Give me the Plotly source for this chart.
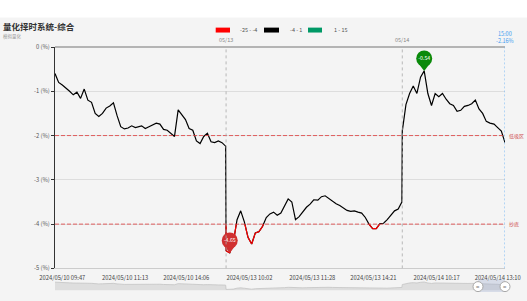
import pandas as pd
import plotly.graph_objects as go

# ---------------- data ----------------
day1_am = pd.date_range("2024-05-10 09:37", "2024-05-10 11:27", freq="5min")
day1_pm = pd.date_range("2024-05-10 13:05", "2024-05-10 15:00", freq="5min")
day2_am = pd.date_range("2024-05-13 09:30", "2024-05-13 11:30", freq="5min")
day2_pm = pd.date_range("2024-05-13 13:05", "2024-05-13 15:00", freq="5min")
day3_am = pd.date_range("2024-05-14 09:30", "2024-05-14 11:30", freq="5min")
day3_pm = pd.date_range("2024-05-14 13:05", "2024-05-14 13:20", freq="5min")

day1_values = [-0.6, -0.8, -0.86, -0.92, -1.0, -1.08, -1.02, -1.16, -0.95, -1.2, -1.25, -1.5,
               -1.57, -1.5, -1.38, -1.33, -1.26, -1.55, -1.8, -1.85, -1.83, -1.78, -1.82,
               -1.78, -1.84, -1.8, -1.76, -1.72, -1.74, -1.86, -1.88, -1.96, -2.02, -1.42, -1.52,
               -1.64, -1.84, -1.88, -2.12, -2.18, -2.02, -1.95, -2.14, -2.16, -2.12, -2.16, -2.24]
day2_values = [-4.6, -4.65, -4.4, -3.9, -3.7, -3.95, -4.3, -4.45, -4.2, -4.17, -4.05, -3.85,
               -3.77, -3.73, -3.8, -3.75, -3.6, -3.43, -3.5, -3.9, -3.83, -3.72, -3.62, -3.55, -3.45,
               -3.46, -3.38, -3.36, -3.42, -3.5, -3.54, -3.58, -3.63, -3.69, -3.71, -3.7, -3.73,
               -3.75, -3.85, -4.0, -4.1, -4.1, -3.99, -3.98, -3.9, -3.8, -3.7, -3.66, -3.5]
day3_values = [-1.9, -1.3, -1.05, -0.88, -1.05, -0.68, -0.54, -1.05, -1.32, -1.05, -1.12, -1.05,
               -1.18, -1.28, -1.32, -1.45, -1.43, -1.34, -1.32, -1.28, -1.2, -1.4, -1.5, -1.68, -1.72,
               -1.74, -1.82, -1.9, -2.16]

tick_times = ["2024-05-10 09:47", "2024-05-10 11:13", "2024-05-10 14:06", "2024-05-13 10:02",
              "2024-05-13 11:28", "2024-05-13 14:21", "2024-05-14 10:17", "2024-05-14 13:10"]
tick_labels = ["2024/05/10 09:47", "2024/05/10 11:13", "2024/05/10 14:06", "2024/05/13 10:02",
               "2024/05/13 11:28", "2024/05/13 14:21", "2024/05/14 10:17", "2024/05/14 13:10"]
y_ticks = [0, -1, -2, -3, -4, -5]
y_tick_labels = ["0 (%)", "-1 (%)", "-2 (%)", "-3 (%)", "-4 (%)", "-5 (%)"]
day_starts = ["2024-05-13 09:30", "2024-05-14 09:30"]
day_labels = ["05/13", "05/14"]
ref_levels = [-2, -4]
ref_labels = ["低吸区", "抄底"]
legend_pieces = [("-25 - -4", "#ff0000"), ("-4 - 1", "#000000"), ("1 - 15", "#009966")]
threshold = -4

times = list(day1_am) + list(day1_pm) + list(day2_am) + list(day2_pm) + list(day3_am) + list(day3_pm)
values = day1_values + day2_values + day3_values

# ---------------- red segments (below threshold) ----------------
red_x, red_y = [], []
for i in range(len(values) - 1):
    a, b = values[i], values[i + 1]
    ta, tb = times[i], times[i + 1]
    ba, bb = a < threshold, b < threshold
    if not ba and not bb:
        continue
    if ba and bb:
        red_x += [ta, tb, None]
        red_y += [a, b, None]
    else:
        if (tb - ta) <= pd.Timedelta(minutes=10):
            f = (threshold - a) / (b - a)
            tc = ta + (tb - ta) * f
        else:
            tc = tb
        if ba:
            red_x += [ta, tc, None]
            red_y += [a, threshold, None]
        else:
            red_x += [tc, tb, None]
            red_y += [threshold, b, None]

rbreaks = [dict(bounds=["sat", "mon"]),
           dict(bounds=[15.01, 9.5], pattern="hour"),
           dict(bounds=[11.51, 13], pattern="hour")]

BG = "#f4f4f4"
FONT = "Noto Sans CJK SC"

fig = go.Figure()
fig.add_trace(go.Scatter(x=times, y=values, mode="lines",
                         line=dict(color="#000000", width=1.2), hoverinfo="skip"))
fig.add_trace(go.Scatter(x=red_x, y=red_y, mode="lines", connectgaps=False,
                         line=dict(color="#ff0000", width=1.2), hoverinfo="skip"))

# pins for min / max
imin = values.index(min(values))
imax = values.index(max(values))
for idx, col in [(imin, "#d03030"), (imax, "#0a8a0a")]:
    v = values[idx]
    fig.add_trace(go.Scatter(x=[times[idx]], y=[v + 0.1], mode="markers",
                             marker=dict(symbol="triangle-down", size=9, color=col, line=dict(width=0)),
                             hoverinfo="skip"))
    fig.add_trace(go.Scatter(x=[times[idx]], y=[v + 0.28], mode="markers+text",
                             marker=dict(symbol="circle", size=16, color=col, line=dict(width=0)),
                             text=[f"{v:.2f}"], textposition="middle center",
                             textfont=dict(color="white", size=5.3, family=FONT),
                             hoverinfo="skip"))

# slider preview
fig.add_trace(go.Scatter(x=times, y=[v + 5 for v in values], mode="lines", xaxis="x2", yaxis="y2",
                         fill="tozeroy", fillcolor="#dedede",
                         line=dict(color="#c4c4c4", width=0.8), hoverinfo="skip"))

shapes = []
# top zero line
shapes.append(dict(type="line", xref="paper", yref="paper", x0=0, x1=1, y0=1, y1=1,
                   line=dict(color="#b4b4b4", width=2)))
# reference lines
for lv in ref_levels:
    shapes.append(dict(type="line", xref="paper", yref="y", x0=0, x1=1, y0=lv, y1=lv,
                       line=dict(color="#e03c3c", width=0.8, dash="4px,2px")))
# day separators
for ds in day_starts:
    shapes.append(dict(type="line", xref="x", yref="y", x0=ds, x1=ds, y0=-5, y1=0,
                       line=dict(color="#aaaaaa", width=0.8, dash="3px,3px")))
# last point line
shapes.append(dict(type="line", xref="x", yref="y", x0=times[-1], x1=times[-1], y0=-5, y1=0,
                   line=dict(color="#70b4f5", width=1, dash="2px,2px")))
# white strip at very top
shapes.append(dict(type="rect", xref="paper", yref="paper", x0=-0.2, x1=1.1, y0=1.12, y1=1.25,
                   fillcolor="white", line=dict(width=0), layer="below"))
# legend swatches
legend_x = [(215.7, 230, 238), (264, 279, 288), (308, 322, 332)]
annotations = []
for (lab, col), (a0, a1, tx) in zip(legend_pieces, legend_x):
    shapes.append(dict(type="rect", xref="paper", yref="paper",
                       x0=(a0 - 55) / 450, x1=(a1 - 55) / 450, y0=1 + (47 - 32.3) / 250, y1=1 + (47 - 27.3) / 250,
                       fillcolor=col, line=dict(width=0)))
    annotations.append(dict(xref="paper", yref="paper", x=(tx - 55) / 450, y=1 + (47 - 29.8) / 250,
                            xanchor="left", yanchor="middle", showarrow=False, text=lab,
                            font=dict(size=5.5, color="#555", family=FONT)))
# slider selection + handles
shapes.append(dict(type="rect", xref="paper", yref="paper", x0=(478 - 55) / 450, x1=1,
                   y0=0.004, y1=0.056, fillcolor="rgba(160,175,210,0.35)", line=dict(width=0)))
for hx in [478, 505]:
    shapes.append(dict(type="circle", xref="paper", yref="paper", xsizemode="pixel", ysizemode="pixel",
                       xanchor=(hx - 55) / 450, yanchor=(297 - 290.5) / 250,
                       x0=-5, x1=5, y0=-5, y1=5, fillcolor="white", line=dict(color="#a8a8a8", width=1)))
    annotations.append(dict(xref="paper", yref="paper", x=(hx - 55) / 450, y=(297 - 290.5) / 250,
                            text="=", showarrow=False, font=dict(size=6, color="#777"),
                            xanchor="center", yanchor="middle"))

# title & subtitle
annotations.append(dict(xref="paper", yref="paper", x=(1 - 55) / 450, y=1 + (47 - 25.5) / 250,
                        xanchor="left", yanchor="middle", showarrow=False,
                        text="<b>量化择时系统-综合</b>", font=dict(size=8.5, color="#333", family=FONT)))
annotations.append(dict(xref="paper", yref="paper", x=(1 - 55) / 450, y=1 + (47 - 36.5) / 250,
                        xanchor="left", yanchor="middle", showarrow=False,
                        text="模拟量化", font=dict(size=4.5, color="#999", family=FONT)))
# day labels at top
for ds, dl in zip(day_starts, day_labels):
    annotations.append(dict(xref="x", yref="paper", x=ds, y=1, yanchor="bottom", yshift=1,
                            showarrow=False, text=dl, font=dict(size=5.5, color="#888", family=FONT)))
# last point label
last_time = times[-1]
annotations.append(dict(xref="x", yref="paper", x=last_time, y=1, yanchor="bottom", yshift=0,
                        showarrow=False, text=f"15:00<br>{values[-1]:.2f}%",
                        font=dict(size=5.5, color="#3f9cf0", family=FONT)))
# reference labels at right
for lv, lt in zip(ref_levels, ref_labels):
    annotations.append(dict(xref="paper", yref="y", x=1, y=lv, xanchor="left", xshift=2,
                            yanchor="middle", showarrow=False, text=lt,
                            font=dict(size=5, color="#d05050", family=FONT)))

fig.update_layout(
    width=527, height=301, autosize=False,
    margin=dict(l=55, r=22, t=47, b=4),
    paper_bgcolor=BG, plot_bgcolor=BG,
    showlegend=False,
    font=dict(family=FONT),
    shapes=shapes, annotations=annotations,
    xaxis=dict(type="date", rangebreaks=rbreaks, range=[times[0], times[-1]], anchor="y",
               tickvals=tick_times, ticktext=tick_labels, tickangle=0,
               tickfont=dict(size=5.8, color="#444", family=FONT),
               showgrid=False, zeroline=False, showline=True, linecolor="#cccccc", linewidth=1,
               ticks="outside", ticklen=4, tickcolor="rgba(0,0,0,0)"),
    yaxis=dict(domain=[0.1, 1], range=[-5, 0], tickvals=y_ticks, ticktext=y_tick_labels,
               tickfont=dict(size=5.8, color="#555", family=FONT),
               showgrid=True, gridcolor="#dddddd", gridwidth=1, zeroline=False,
               showline=True, linecolor="#333", linewidth=1, ticks="outside", ticklen=3,
               tickcolor="#333"),
    xaxis2=dict(type="date", rangebreaks=rbreaks, range=[times[0], times[-1]], anchor="y2",
                showticklabels=False, showgrid=False, zeroline=False, showline=False, ticks=""),
    yaxis2=dict(domain=[0.004, 0.056], range=[-1, 6], visible=False),
)

fig.write_html("out.html")
